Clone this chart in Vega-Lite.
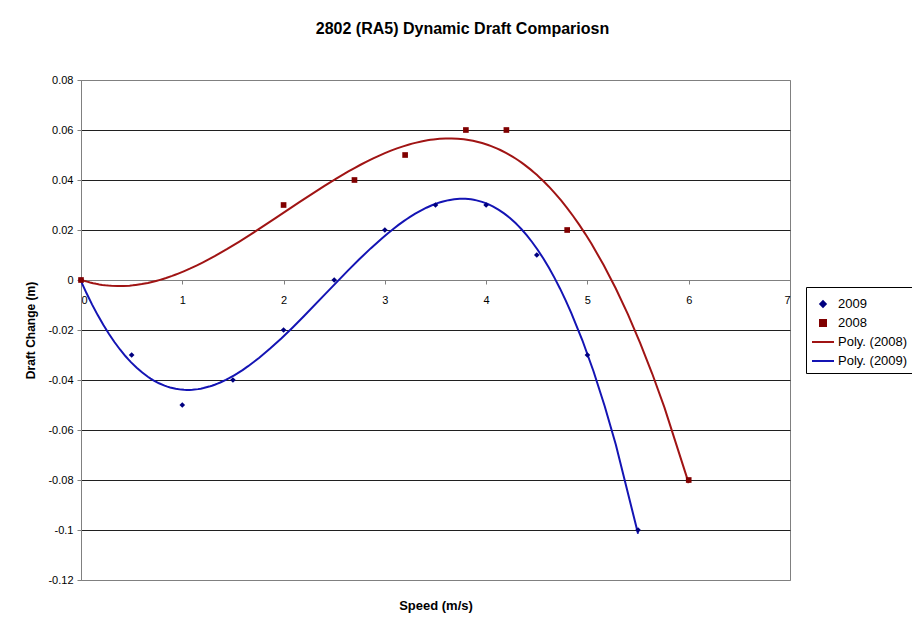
{
  "$schema": "https://vega.github.io/schema/vega-lite/v6.json",
  "width": 709,
  "height": 500,
  "autosize": {"type": "none"},
  "padding": {"left": 81, "top": 80, "right": 122, "bottom": 49},
  "background": "white",
  "title": {
    "text": "2802 (RA5) Dynamic Draft Compariosn",
    "fontSize": 16,
    "fontWeight": "bold",
    "font": "Liberation Sans",
    "color": "#000",
    "frame": "group",
    "anchor": "middle",
    "dx": 27,
    "offset": 24,
    "baseline": "alphabetic"
  },
  "data": {
    "values": [
      {"speed": 0, "draft": 0, "series": "2009", "trend": "Poly. (2009)"},
      {"speed": 0.5, "draft": -0.03, "series": "2009", "trend": "Poly. (2009)"},
      {"speed": 1, "draft": -0.05, "series": "2009", "trend": "Poly. (2009)"},
      {"speed": 1.5, "draft": -0.04, "series": "2009", "trend": "Poly. (2009)"},
      {"speed": 2, "draft": -0.02, "series": "2009", "trend": "Poly. (2009)"},
      {"speed": 2.5, "draft": 0, "series": "2009", "trend": "Poly. (2009)"},
      {"speed": 3, "draft": 0.02, "series": "2009", "trend": "Poly. (2009)"},
      {"speed": 3.5, "draft": 0.03, "series": "2009", "trend": "Poly. (2009)"},
      {"speed": 4, "draft": 0.03, "series": "2009", "trend": "Poly. (2009)"},
      {"speed": 4.5, "draft": 0.01, "series": "2009", "trend": "Poly. (2009)"},
      {"speed": 5, "draft": -0.03, "series": "2009", "trend": "Poly. (2009)"},
      {"speed": 5.5, "draft": -0.1, "series": "2009", "trend": "Poly. (2009)"},
      {"speed": 0, "draft": 0, "series": "2008", "trend": "Poly. (2008)"},
      {"speed": 2, "draft": 0.03, "series": "2008", "trend": "Poly. (2008)"},
      {"speed": 2.7, "draft": 0.04, "series": "2008", "trend": "Poly. (2008)"},
      {"speed": 3.2, "draft": 0.05, "series": "2008", "trend": "Poly. (2008)"},
      {"speed": 3.8, "draft": 0.06, "series": "2008", "trend": "Poly. (2008)"},
      {"speed": 4.2, "draft": 0.06, "series": "2008", "trend": "Poly. (2008)"},
      {"speed": 4.8, "draft": 0.02, "series": "2008", "trend": "Poly. (2008)"},
      {"speed": 6, "draft": -0.08, "series": "2008", "trend": "Poly. (2008)"}
    ]
  },
  "encoding": {
    "x": {
      "field": "speed",
      "type": "quantitative",
      "scale": {"domain": [0, 7], "nice": false, "zero": false},
      "axis": {
        "values": [0, 1, 2, 3, 4, 5, 6, 7],
        "offset": -300,
        "grid": false,
        "domainColor": "#808080",
        "tickColor": "#808080",
        "tickSize": 4,
        "labelFontSize": 11,
        "labelColor": "#000",
        "labelPadding": 10,
        "title": "Speed (m/s)",
        "titleFontSize": 13,
        "titleFontWeight": "bold",
        "titleColor": "#000",
        "titleY": 329,
        "titleBaseline": "alphabetic"
      }
    },
    "y": {
      "field": "draft",
      "type": "quantitative",
      "scale": {"domain": [-0.12, 0.08], "nice": false, "zero": false},
      "axis": {
        "values": [-0.12, -0.1, -0.08, -0.06, -0.04, -0.02, 0, 0.02, 0.04, 0.06, 0.08],
        "labelExpr": "datum.value + ''",
        "grid": true,
        "gridColor": {"condition": {"test": "datum.value == 0.08 || datum.value == -0.12 || datum.value == 0", "value": "#808080"}, "value": "#202020"},
        "gridWidth": 1,
        "domainColor": "#808080",
        "tickColor": "#808080",
        "tickSize": 4,
        "labelFontSize": 11,
        "labelColor": "#000",
        "labelPadding": 4,
        "title": "Draft Change (m)",
        "titleFontSize": 12,
        "titleFontWeight": "bold",
        "titleColor": "#000",
        "titlePadding": 10
      }
    }
  },
  "layer": [
    {
      "transform": [
        {"regression": "draft", "on": "speed", "method": "poly", "order": 3, "groupby": ["series", "trend"]}
      ],
      "mark": {"type": "line", "strokeWidth": 2, "clip": true},
      "encoding": {
        "color": {
          "field": "trend",
          "type": "nominal",
          "scale": {
            "domain": ["2009", "2008", "Poly. (2008)", "Poly. (2009)"],
            "range": ["#000080", "#800000", "#A01414", "#1414B4"]
          },
          "legend": {
            "title": null,
            "orient": "none",
            "legendX": 725,
            "legendY": 207,
            "strokeColor": "#000",
            "fillColor": "#fff",
            "padding": 5,
            "symbolSize": 441,
            "rowPadding": 0,
            "labelFontSize": 13,
            "labelColor": "#000",
            "labelOffset": 3,
            "encode": {
              "symbols": {
                "update": {
                  "shape": {"signal": "datum.value == '2009' ? 'diamond' : datum.value == '2008' ? 'square' : 'stroke'"},
                  "size": {"signal": "datum.value == '2009' ? 30 : datum.value == '2008' ? 36 : 484"},
                  "fill": {"signal": "datum.value == '2009' ? '#000080' : datum.value == '2008' ? '#800000' : 'transparent'"},
                  "stroke": {"signal": "datum.value == 'Poly. (2008)' ? '#A01414' : datum.value == 'Poly. (2009)' ? '#1414B4' : 'transparent'"},
                  "strokeWidth": {"value": 2},
                  "opacity": {"value": 1},
                  "fillOpacity": {"value": 1},
                  "strokeOpacity": {"value": 1}
                }
              }
            }
          }
        },
        "detail": {"field": "series"}
      }
    },
    {
      "mark": {"type": "point", "filled": true, "opacity": 1, "size": 32},
      "encoding": {
        "color": {"field": "series", "type": "nominal"},
        "shape": {
          "field": "series",
          "type": "nominal",
          "scale": {"domain": ["2009", "2008"], "range": ["diamond", "square"]},
          "legend": null
        }
      }
    }
  ],
  "config": {
    "font": "Liberation Sans",
    "view": {"stroke": "#808080", "strokeWidth": 1}
  },
  "resolve": {"scale": {"color": "shared"}, "legend": {"color": "shared"}}
}
